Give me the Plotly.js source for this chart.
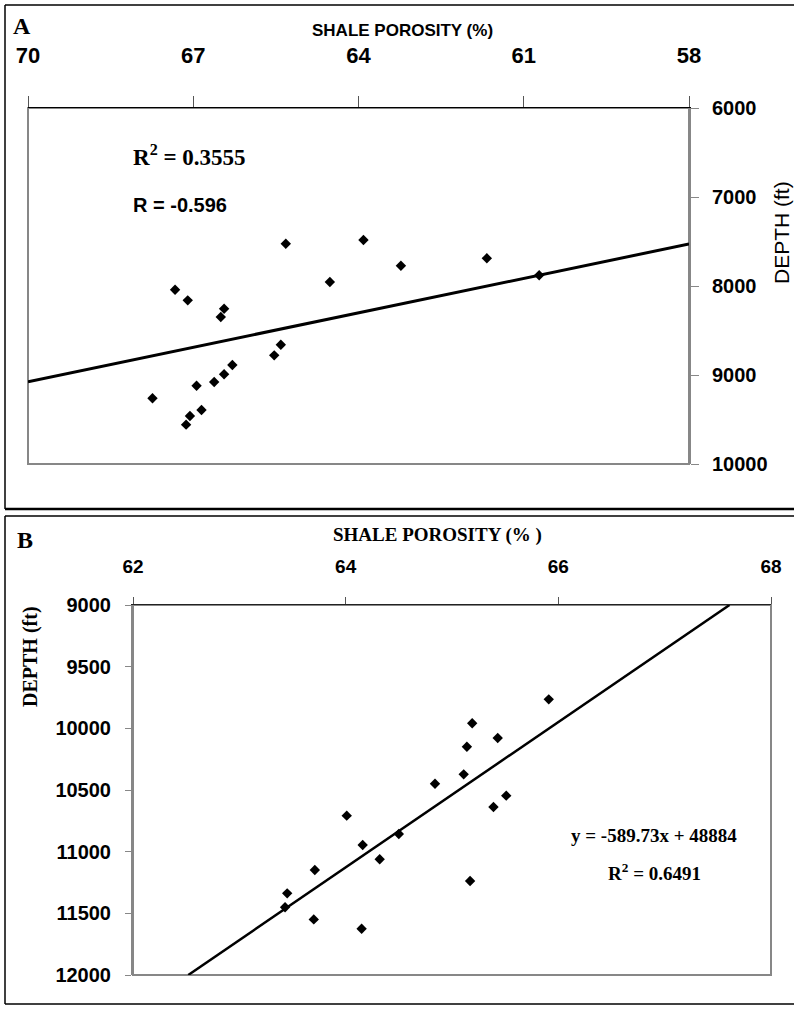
<!DOCTYPE html>
<html><head><meta charset="utf-8">
<script src="https://cdn.plot.ly/plotly-3.0.1.min.js"></script>
<style>html,body{margin:0;padding:0;background:#fff}#chart{width:794px;height:1009px}</style>
</head><body><div id="chart"></div>
<script>
// ---- Panel A data (shale porosity %, depth ft) ----
const porosityA = [65.32, 63.91, 63.23, 61.67, 60.72, 64.52, 67.33, 67.10, 66.44, 66.50,
                   65.41, 65.53, 66.29, 66.44, 66.62, 66.94, 67.74, 66.85, 67.06, 67.13];
const depthA    = [7525, 7483, 7772, 7689, 7880, 7955, 8042, 8161, 8255, 8348,
                   8660, 8779, 8888, 8992, 9079, 9120, 9262, 9393, 9461, 9558];
const trendA_porosity = [70, 58];
const trendA_depth    = [9075, 7528];
const ticksA_porosity = [70, 67, 64, 61, 58];
const ticksA_depth    = [6000, 7000, 8000, 9000, 10000];

// ---- Panel B data ----
const porosityB = [65.91, 65.19, 65.43, 65.14, 65.11, 64.84, 65.51, 65.39, 64.01,
                   64.50, 64.16, 64.32, 63.71, 65.17, 63.45, 63.43, 63.70, 64.15];
const depthB    = [9765, 9959, 10078, 10149, 10373, 10449, 10546, 10638, 10708,
                   10857, 10946, 11062, 11149, 11238, 11338, 11451, 11549, 11625];
const trendB_porosity = [62.52, 67.61];
const trendB_depth    = [12000, 9000];
const ticksB_porosity = [62, 64, 66, 68];
const ticksB_depth    = [9000, 9500, 10000, 10500, 11000, 11500, 12000];

const W = 794, H = 1009;
const px = v => v / W;
const py = v => 1 - v / H;

const SANS = '"Liberation Sans", Arial, sans-serif';
const SERIF = '"Liberation Serif", "Times New Roman", serif';
const GRAY = '#878787';

const traces = [
  {x: trendA_porosity, y: trendA_depth, xaxis: 'x', yaxis: 'y', mode: 'lines',
   line: {color: '#000', width: 3}, hoverinfo: 'skip'},
  {x: porosityA, y: depthA, xaxis: 'x', yaxis: 'y', mode: 'markers',
   marker: {symbol: 'diamond', size: 8, color: '#000'}},
  {x: trendB_porosity, y: trendB_depth, xaxis: 'x2', yaxis: 'y2', mode: 'lines',
   line: {color: '#000', width: 2.5}, hoverinfo: 'skip'},
  {x: porosityB, y: depthB, xaxis: 'x2', yaxis: 'y2', mode: 'markers',
   marker: {symbol: 'diamond', size: 8, color: '#000'}}
];

const layout = {
  width: W, height: H,
  margin: {l: 0, r: 0, t: 0, b: 0},
  paper_bgcolor: '#fff', plot_bgcolor: '#fff',
  showlegend: false,
  xaxis: {
    domain: [px(28), px(689)], anchor: 'y', side: 'top',
    range: [70, 58], tickmode: 'array', tickvals: ticksA_porosity,
    ticktext: ticksA_porosity.map(String),
    showgrid: false, zeroline: false, showline: true, linecolor: '#000', linewidth: 1,
    ticks: 'outside', ticklen: 11, tickcolor: '#555', tickwidth: 1,
    ticklabelstandoff: 24,
    tickfont: {family: SANS, size: 22, color: '#000', weight: 'bold'}
  },
  yaxis: {
    domain: [py(464), py(108)], anchor: 'x', side: 'right',
    range: [10000, 6000], tickmode: 'array', tickvals: ticksA_depth,
    ticktext: ticksA_depth.map(String),
    showgrid: false, zeroline: false, showline: true, linecolor: GRAY, linewidth: 2,
    ticks: 'outside', ticklen: 8, tickcolor: GRAY, tickwidth: 1,
    ticklabelstandoff: 9,
    tickfont: {family: SANS, size: 20, color: '#000', weight: 'bold'}
  },
  xaxis2: {
    domain: [px(133), px(771)], anchor: 'y2', side: 'top',
    range: [62, 68], tickmode: 'array', tickvals: ticksB_porosity,
    ticktext: ticksB_porosity.map(String),
    showgrid: false, zeroline: false, showline: true, linecolor: '#222', linewidth: 1,
    ticks: 'outside', ticklen: 7, tickcolor: '#555', tickwidth: 1,
    ticklabelstandoff: 16,
    tickfont: {family: SANS, size: 19, color: '#000', weight: 'bold'}
  },
  yaxis2: {
    domain: [py(975), py(605)], anchor: 'x2', side: 'left',
    range: [12000, 9000], tickmode: 'array', tickvals: ticksB_depth,
    ticktext: ticksB_depth.map(String),
    showgrid: false, zeroline: false, showline: true, linecolor: GRAY, linewidth: 2,
    ticks: 'outside', ticklen: 6, tickcolor: GRAY, tickwidth: 1,
    ticklabelstandoff: 10,
    tickfont: {family: SANS, size: 20, color: '#000', weight: 'bold'}
  },
  shapes: [
    // panel A frame
    {type: 'line', xref: 'paper', yref: 'paper', x0: px(5), x1: px(5), y0: py(5), y1: py(509), line: {color: '#000', width: 1.5}},
    {type: 'line', xref: 'paper', yref: 'paper', x0: px(5), x1: 1, y0: py(5), y1: py(5), line: {color: '#000', width: 1.5}},
    {type: 'line', xref: 'paper', yref: 'paper', x0: px(5), x1: 1, y0: py(509), y1: py(509), line: {color: '#000', width: 2.5}},
    // panel B frame
    {type: 'line', xref: 'paper', yref: 'paper', x0: px(5), x1: 1, y0: py(516), y1: py(516), line: {color: '#000', width: 1.5}},
    {type: 'line', xref: 'paper', yref: 'paper', x0: px(5), x1: px(5), y0: py(516), y1: py(1004), line: {color: '#000', width: 1.5}},
    {type: 'line', xref: 'paper', yref: 'paper', x0: px(5), x1: 1, y0: py(1004), y1: py(1004), line: {color: '#000', width: 1.5}},
    // plot area borders
    {type: 'rect', xref: 'x domain', yref: 'y domain', x0: 0, x1: 1, y0: 0, y1: 1, layer: 'below', line: {color: GRAY, width: 2}},
    {type: 'rect', xref: 'x2 domain', yref: 'y2 domain', x0: 0, x1: 1, y0: 0, y1: 1, layer: 'below', line: {color: GRAY, width: 2}}
  ],
  annotations: [
    {text: '<b>A</b>', xref: 'paper', yref: 'paper', x: px(22), y: py(26), xanchor: 'center', yanchor: 'middle', showarrow: false,
     font: {family: SERIF, size: 24, color: '#000'}},
    {text: '<b>SHALE POROSITY (%)</b>', xref: 'paper', yref: 'paper', x: px(402), y: py(31), xanchor: 'center', yanchor: 'middle', showarrow: false,
     font: {family: SANS, size: 17, color: '#000'}},
    {text: 'DEPTH (ft)', xref: 'paper', yref: 'paper', x: px(782), y: py(233), xanchor: 'center', yanchor: 'middle', showarrow: false, textangle: -90,
     font: {family: SANS, size: 21, color: '#000'}},
    {text: '<b>R<sup>2</sup> = 0.3555</b>', xref: 'paper', yref: 'paper', x: px(131), y: py(155), xanchor: 'left', yanchor: 'middle', showarrow: false,
     font: {family: SERIF, size: 23, color: '#000'}},
    {text: '<b>R = -0.596</b>', xref: 'paper', yref: 'paper', x: px(131), y: py(205), xanchor: 'left', yanchor: 'middle', showarrow: false,
     font: {family: SANS, size: 20, color: '#000'}},
    {text: '<b>B</b>', xref: 'paper', yref: 'paper', x: px(25), y: py(540), xanchor: 'center', yanchor: 'middle', showarrow: false,
     font: {family: SERIF, size: 24, color: '#000'}},
    {text: '<b>SHALE POROSITY (% )</b>', xref: 'paper', yref: 'paper', x: px(437), y: py(535), xanchor: 'center', yanchor: 'middle', showarrow: false,
     font: {family: SERIF, size: 19, color: '#000'}},
    {text: '<b>DEPTH (ft)</b>', xref: 'paper', yref: 'paper', x: px(30), y: py(657), xanchor: 'center', yanchor: 'middle', showarrow: false, textangle: -90,
     font: {family: SERIF, size: 20, color: '#000'}},
    {text: '<b>y = -589.73x + 48884</b>', xref: 'paper', yref: 'paper', x: px(654), y: py(835), xanchor: 'center', yanchor: 'middle', showarrow: false,
     font: {family: SERIF, size: 19, color: '#000'}},
    {text: '<b>R<sup>2</sup> = 0.6491</b>', xref: 'paper', yref: 'paper', x: px(654), y: py(872), xanchor: 'center', yanchor: 'middle', showarrow: false,
     font: {family: SERIF, size: 19, color: '#000'}}
  ]
};

Plotly.newPlot('chart', traces, layout, {displayModeBar: false, staticPlot: true});
</script>
</body></html>
